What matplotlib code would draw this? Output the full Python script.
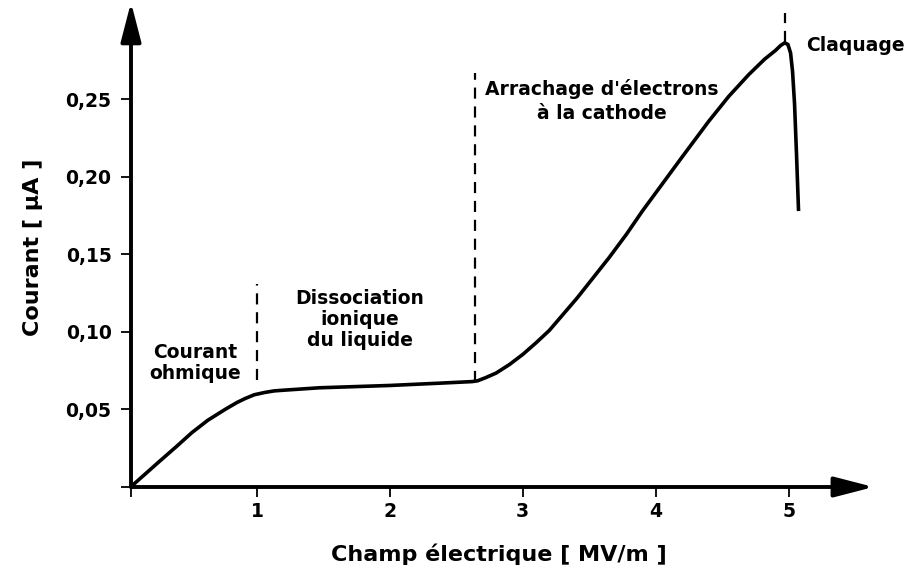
import matplotlib
matplotlib.use("Agg")
import matplotlib.pyplot as plt

# champ electrique (MV/m) et courant (uA)
champ = [0.05, 0.26, 0.40, 0.51, 0.63, 0.76, 0.85, 0.91, 0.98, 1.06, 1.13, 1.21, 1.47, 2.0, 2.38, 2.62,
         2.66, 2.72, 2.80, 2.90, 3.0, 3.1, 3.2, 3.3, 3.41, 3.53, 3.65, 3.78, 3.90, 4.05,
         4.20, 4.40, 4.55, 4.70, 4.82, 4.90, 4.94, 4.97, 4.995, 5.015, 5.03, 5.045, 5.06, 5.075]
courant = [0.0, 0.016, 0.0265, 0.035, 0.043, 0.050, 0.0545, 0.057, 0.0595, 0.061, 0.062, 0.0625, 0.064,
           0.0655, 0.067, 0.068,
           0.0685, 0.0705, 0.0735, 0.079, 0.0855, 0.093, 0.101, 0.111, 0.122, 0.135, 0.148, 0.163,
           0.178, 0.1955,
           0.213, 0.236, 0.252, 0.266, 0.276, 0.2815, 0.2848, 0.2865, 0.2855, 0.280, 0.268, 0.247,
           0.214, 0.178]

xticks = [1, 2, 3, 4, 5]
yticks = [0.05, 0.10, 0.15, 0.20, 0.25]
ytick_labels = ["0,05", "0,10", "0,15", "0,20", "0,25"]

# limites des zones (x, y bas, y haut)
zones = [(1.0, 0.069, 0.131), (2.64, 0.068, 0.267), (4.97, 0.287, 0.306)]

plt.rcParams['font.family'] = ['DejaVu Sans']
plt.rcParams['font.weight'] = 'bold'

fig = plt.figure(figsize=(9.08, 5.7), dpi=100)
W, H = 908, 570
ax = fig.add_axes([131 / W, (570 - 487) / H, (867 - 131) / W, (487 - 8) / H])
ax.set_xlim(0.053, 5.59)
ax.set_ylim(0.0, 0.309)

for s in ax.spines.values():
    s.set_visible(False)

arrow = dict(arrowstyle='-|>,head_length=2.4,head_width=0.62', lw=2.8, color='k',
             shrinkA=0, shrinkB=0, mutation_scale=10)
ax.annotate('', xy=(1.009, 0), xytext=(0, 0), xycoords='axes fraction', arrowprops=arrow)
ax.annotate('', xy=(0, 1.012), xytext=(0, 0), xycoords='axes fraction', arrowprops=arrow)

ax.plot(champ, courant, color='k', lw=2.6, solid_capstyle='butt', solid_joinstyle='round')

for xz, y0, y1 in zones:
    ax.plot([xz, xz], [y0, y1], color='k', lw=1.6, dashes=(5, 3.5))

ax.set_xticks([0.053] + xticks)
ax.set_xticklabels([''] + [str(t) for t in xticks])
ax.set_yticks([0.0] + yticks)
ax.set_yticklabels([''] + ytick_labels)
ax.tick_params(length=7, width=1.3, direction='out', labelsize=13.5, pad=7)
ax.tick_params(axis='x', pad=4)

ax.set_xlabel('Champ électrique [ MV/m ]', fontsize=16, fontweight='bold', labelpad=16)
ax.set_ylabel('Courant [ μA ]', fontsize=16, fontweight='bold', labelpad=16)

kw = dict(fontsize=13.5, fontweight='bold')
ax.text(0.534, 0.080, 'Courant\nohmique', ha='center', va='center', linespacing=1.12, **kw)
ax.text(1.776, 0.108, 'Dissociation\nionique\ndu liquide', ha='center', va='center',
        linespacing=1.12, **kw)
ax.text(3.597, 0.249, "Arrachage d'électrons\nà la cathode", ha='center', va='center',
        linespacing=1.35, **kw)
ax.text(5.135, 0.285, 'Claquage', ha='left', va='center', **kw)

fig.savefig('out.png', dpi=100)
